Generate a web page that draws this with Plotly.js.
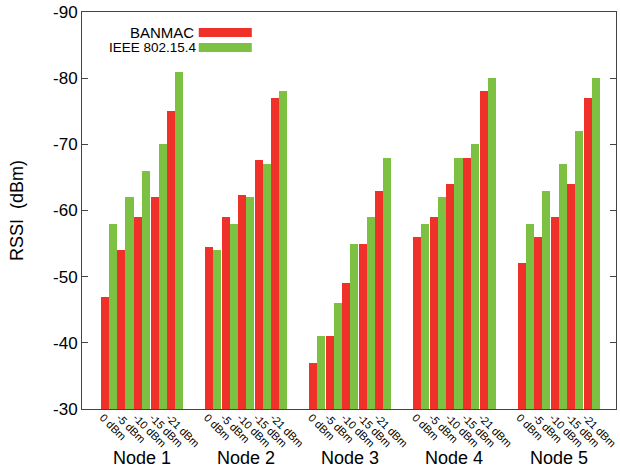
<!DOCTYPE html>
<html>
<head>
<meta charset="utf-8">
<script src="https://cdn.plot.ly/plotly-3.0.1.min.js"></script>
<style>html,body{margin:0;padding:0;background:#fff;}#chart{width:620px;height:474px;}</style>
</head>
<body>
<div id="chart"></div>
<script>
// ---- data ----
const nodes = ["Node 1", "Node 2", "Node 3", "Node 4", "Node 5"];
const powerLevels = ["0 dBm", "-5 dBm", "-10 dBm", "-15 dBm", "-21 dBm"];
// RSSI (dBm) per node, per power level
const banmac = [
  [-47, -54, -59, -62, -75],
  [-54.5, -59, -62.3, -67.6, -77],
  [-37, -41, -49, -55, -63],
  [-56, -59, -64, -68, -78],
  [-52, -56, -59, -64, -77]
];
const ieee = [
  [-58, -62, -66, -70, -81],
  [-54, -58, -62, -67, -78],
  [-41, -46, -55, -59, -68],
  [-58, -62, -68, -70, -80],
  [-58, -63, -67, -72, -80]
];
const yTicks = [-90, -80, -70, -60, -50, -40, -30];

// ---- layout helpers ----
const groupPitch = 6.3;
const barW = 0.485;
const xs = [], xlab = [], yB = [], yI = [];
nodes.forEach((n, g) => {
  powerLevels.forEach((p, i) => {
    xs.push(g * groupPitch + i);
    xlab.push(p);
    yB.push(banmac[g][i]);
    yI.push(ieee[g][i]);
  });
});

const red = "#EF3129";
const green = "#7DC142";
const font = "Liberation Sans, Arial, Helvetica, sans-serif";

const traces = [
  {type: "bar", name: "BANMAC", x: xs, y: yB, width: barW, offset: -barW,
   marker: {color: red, line: {width: 0}}, showlegend: false},
  {type: "bar", name: "IEEE 802.15.4", x: xs, y: yI, width: barW, offset: 0,
   marker: {color: green, line: {width: 0}}, showlegend: false}
];

const px2px = v => (v - 82.3) / 533.7;
const py2py = v => (409.3 - v) / 397.3;

const annotations = nodes.map((n, g) => ({
  text: n, x: g * groupPitch + 2, xref: "x", y: py2py(458), yref: "paper",
  xanchor: "center", yanchor: "middle", showarrow: false,
  font: {family: font, size: 18, color: "#000"}
}));
annotations.push({text: "BANMAC", x: px2px(196), xref: "paper", y: py2py(32.5), yref: "paper",
  xanchor: "right", yanchor: "middle", showarrow: false, font: {family: font, size: 15, color: "#000"}});
annotations.push({text: "IEEE 802.15.4", x: px2px(199), xref: "paper", y: py2py(47.5), yref: "paper",
  xanchor: "right", yanchor: "middle", showarrow: false, font: {family: font, size: 13.5, color: "#000"}});

const shapes = [
  {type: "rect", xref: "paper", yref: "paper", x0: px2px(199), x1: px2px(252), y0: py2py(37), y1: py2py(28),
   fillcolor: red, line: {width: 0}},
  {type: "rect", xref: "paper", yref: "paper", x0: px2px(199), x1: px2px(252), y0: py2py(52), y1: py2py(43),
   fillcolor: green, line: {width: 0}}
];

const layout = {
  width: 620, height: 474,
  margin: {l: 82, r: 4, t: 12, b: 65},
  paper_bgcolor: "#fff", plot_bgcolor: "#fff",
  font: {family: font, color: "#000"},
  bargap: 0, barmode: "overlay",
  xaxis: {
    range: [-1.63, 30.67], tickvals: xs.map(v => v - 0.36), ticktext: xlab, tickangle: 45,
    tickfont: {family: font, size: 11, color: "#000"},
    ticklabeloverflow: "allow", ticklabelstandoff: -3,
    ticks: "", showgrid: false, zeroline: false,
    showline: true, linecolor: "#444", linewidth: 1, mirror: true
  },
  yaxis: {
    range: [-30, -90], tickvals: yTicks, ticktext: yTicks.map(String),
    tickfont: {family: font, size: 17, color: "#000"},
    ticks: "inside", ticklen: 6, tickcolor: "#444", tickwidth: 1,
    showgrid: false, zeroline: false,
    showline: true, linecolor: "#444", linewidth: 1, mirror: "ticks",
    title: {text: "RSSI  (dBm)", font: {family: font, size: 18, color: "#000"}, standoff: 24}
  },
  annotations: annotations,
  shapes: shapes
};

Plotly.newPlot("chart", traces, layout, {displayModeBar: false, staticPlot: true});
</script>
</body>
</html>
